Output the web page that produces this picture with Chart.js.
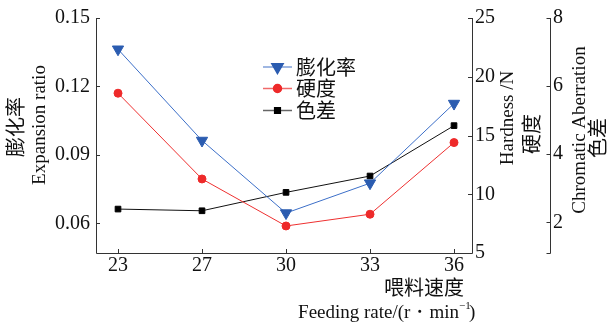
<!DOCTYPE html>
<html>
<head>
<meta charset="utf-8">
<script src="https://cdn.jsdelivr.net/npm/chart.js@4"></script>
<style>
  body { margin: 0; background: #fff; }
</style>
</head>
<body>
<canvas id="chart" width="608" height="324"></canvas>
<script>
// feeding rate categories
var feed_rates = ["23", "27", "30", "33", "36"];

// series
var expansion_ratio = [0.1363, 0.0963, 0.0645, 0.0776, 0.1125];
var hardness = [18.6, 11.3, 7.3, 8.3, 14.4];
var chroma = [2.39, 2.34, 2.88, 3.36, 4.84];

// tick labels
var expansion_ticks = [0.06, 0.09, 0.12, 0.15];
var hardness_ticks = [5, 10, 15, 20, 25];
var chroma_ticks = [2, 4, 6, 8];

var legend_names = ["膨化率", "硬度", "色差"];

var serif = "'Liberation Serif', 'DejaVu Serif', serif";
var cjk = "'Noto Sans CJK SC', sans-serif";
var axis_color = "#333";

function toPoints(arr) {
    return arr.map(function (v, i) { return {x: i, y: v}; });
}

function fixedTicks(list) {
    return function (scale) {
        scale.ticks = list.map(function (v) { return {value: v}; });
    };
}

/*
 axes lines, inward ticks, titles and legend
 */
var decorPlugin = {
    id: "decor",
    afterDraw: function (chart) {
        var ctx = chart.ctx;
        var a = chart.chartArea;
        var sx = chart.scales.x, sy = chart.scales.y, sh = chart.scales.yH, sc = chart.scales.yC;
        var tl = 4;
        ctx.save();
        ctx.strokeStyle = axis_color;
        ctx.lineWidth = 1;

        // frame lines
        ctx.beginPath();
        ctx.moveTo(a.left + 0.5, a.top);
        ctx.lineTo(a.left + 0.5, a.bottom + 0.5);
        ctx.lineTo(a.right + 0.5, a.bottom + 0.5);
        ctx.lineTo(a.right + 0.5, a.top);
        var cx = sc.left + 0.5;
        ctx.moveTo(cx, a.top);
        ctx.lineTo(cx, a.bottom + 0.5);
        ctx.stroke();

        ctx.beginPath();
        expansion_ticks.forEach(function (v) {
            var y = Math.round(sy.getPixelForValue(v)) + 0.5;
            ctx.moveTo(a.left, y); ctx.lineTo(a.left + tl, y);
        });
        hardness_ticks.forEach(function (v) {
            var y = Math.round(sh.getPixelForValue(v)) + 0.5;
            ctx.moveTo(a.right, y); ctx.lineTo(a.right - tl, y);
        });
        chroma_ticks.forEach(function (v) {
            var y = Math.round(sc.getPixelForValue(v)) + 0.5;
            ctx.moveTo(cx, y); ctx.lineTo(cx - tl, y);
        });
        ctx.moveTo(cx, a.bottom + 0.5); ctx.lineTo(cx - tl, a.bottom + 0.5);
        feed_rates.forEach(function (c, i) {
            var x = Math.round(sx.getPixelForValue(i)) + 0.5;
            ctx.moveTo(x, a.bottom); ctx.lineTo(x, a.bottom - tl);
        });
        ctx.stroke();

        // rotated titles, reading bottom to top
        ctx.fillStyle = "#111";
        ctx.textAlign = "center";
        ctx.textBaseline = "middle";
        function vtext(txt, x, y, font) {
            ctx.save();
            ctx.translate(x, y);
            ctx.rotate(-Math.PI / 2);
            ctx.font = font;
            ctx.fillText(txt, 0, 0);
            ctx.restore();
        }
        vtext("膨化率", 15, 127, "20px " + cjk);
        vtext("Expansion ratio", 40, 125, "19px " + serif);
        vtext("Hardness /N", 508, 118, "19px " + serif);
        vtext("硬度", 531, 134, "20px " + cjk);
        vtext("Chromatic Aberration", 580, 130, "19px " + serif);
        vtext("色差", 597, 138, "20px " + cjk);

        // x title
        ctx.textAlign = "right";
        ctx.font = "20px " + cjk;
        ctx.fillText("喂料速度", 464, 287);
        ctx.font = "19px " + serif;
        ctx.fillText("Feeding rate/(r・min", 459, 313);
        ctx.font = "11px " + serif;
        ctx.textAlign = "left";
        ctx.fillText("−1", 459, 306);
        ctx.font = "19px " + serif;
        ctx.fillText(")", 469, 313);

        // legend
        var rows = [67, 88.5, 110.5];
        var legend_lines = ["#7f9fd8", "#f06a6a", "#666"];
        chart.data.datasets.forEach(function (ds, i) {
            var y = rows[i];
            ctx.strokeStyle = legend_lines[i];
            ctx.lineWidth = 1.5;
            ctx.beginPath();
            ctx.moveTo(263, y); ctx.lineTo(292, y);
            ctx.stroke();
            ctx.fillStyle = ds.pointBackgroundColor;
            ctx.strokeStyle = ds.pointBorderColor;
            Chart.helpers.drawPoint(ctx, {
                pointStyle: ds.pointStyle, radius: ds.pointRadius,
                rotation: ds.pointRotation || 0, borderWidth: 1
            }, 277.5, y);
            ctx.fillStyle = "#111";
            ctx.textAlign = "left";
            ctx.font = "20px " + cjk;
            ctx.fillText(legend_names[i], 296, y);
        });
        ctx.restore();
    }
};

var ctx = document.getElementById("chart").getContext("2d");
var myChart = new Chart(ctx, {
    type: "line",
    data: {
        datasets: [{
            label: legend_names[0],
            data: toPoints(expansion_ratio),
            yAxisID: "y",
            borderColor: "#3c6fc8",
            borderWidth: 1,
            pointStyle: "triangle",
            pointRotation: 180,
            pointRadius: 6.5,
            pointBackgroundColor: "#2b5cb0",
            pointBorderColor: "#2b5cb0"
        }, {
            label: legend_names[1],
            data: toPoints(hardness),
            yAxisID: "yH",
            borderColor: "#ee3030",
            borderWidth: 1,
            pointStyle: "circle",
            pointRadius: 4,
            pointBackgroundColor: "#ee2a2a",
            pointBorderColor: "#ee2a2a"
        }, {
            label: legend_names[2],
            data: toPoints(chroma),
            yAxisID: "yC",
            borderColor: "#111",
            borderWidth: 1,
            pointStyle: "rect",
            pointRadius: 4,
            pointBackgroundColor: "#000",
            pointBorderColor: "#000"
        }]
    },
    options: {
        responsive: false,
        animation: false,
        devicePixelRatio: 1,
        layout: {padding: {top: 17, left: 0, right: 0, bottom: 0}},
        plugins: {legend: {display: false}, tooltip: {enabled: false}},
        elements: {line: {tension: 0}},
        scales: {
            x: {
                type: "linear",
                min: -0.262, max: 4.214,
                afterBuildTicks: fixedTicks([0, 1, 2, 3, 4]),
                afterFit: function (s) { s.height = 71; },
                grid: {display: false, drawTicks: false},
                border: {display: false},
                ticks: {
                    padding: 1, color: "#111", maxRotation: 0,
                    font: {family: serif, size: 20},
                    callback: function (v) { return feed_rates[v]; }
                }
            },
            y: {
                position: "left",
                min: 0.047, max: 0.15,
                afterBuildTicks: fixedTicks(expansion_ticks),
                afterFit: function (s) { s.width = 96; },
                grid: {display: false, drawTicks: false},
                border: {display: false},
                ticks: {
                    padding: 6, color: "#111",
                    font: {family: serif, size: 20},
                    callback: function (v) { return v.toFixed(2); }
                }
            },
            yH: {
                position: "right",
                weight: 1,
                min: 5, max: 25,
                afterBuildTicks: fixedTicks(hardness_ticks),
                afterFit: function (s) { s.width = 78; },
                grid: {display: false, drawTicks: false},
                border: {display: false},
                ticks: {padding: 3, color: "#111", font: {family: serif, size: 20}}
            },
            yC: {
                position: "right",
                weight: 2,
                min: 1.1, max: 8,
                afterBuildTicks: fixedTicks(chroma_ticks),
                afterFit: function (s) { s.width = 58; },
                grid: {display: false, drawTicks: false},
                border: {display: false},
                ticks: {padding: 3, color: "#111", font: {family: serif, size: 20}}
            }
        }
    },
    plugins: [decorPlugin]
});
</script>
</body>
</html>
